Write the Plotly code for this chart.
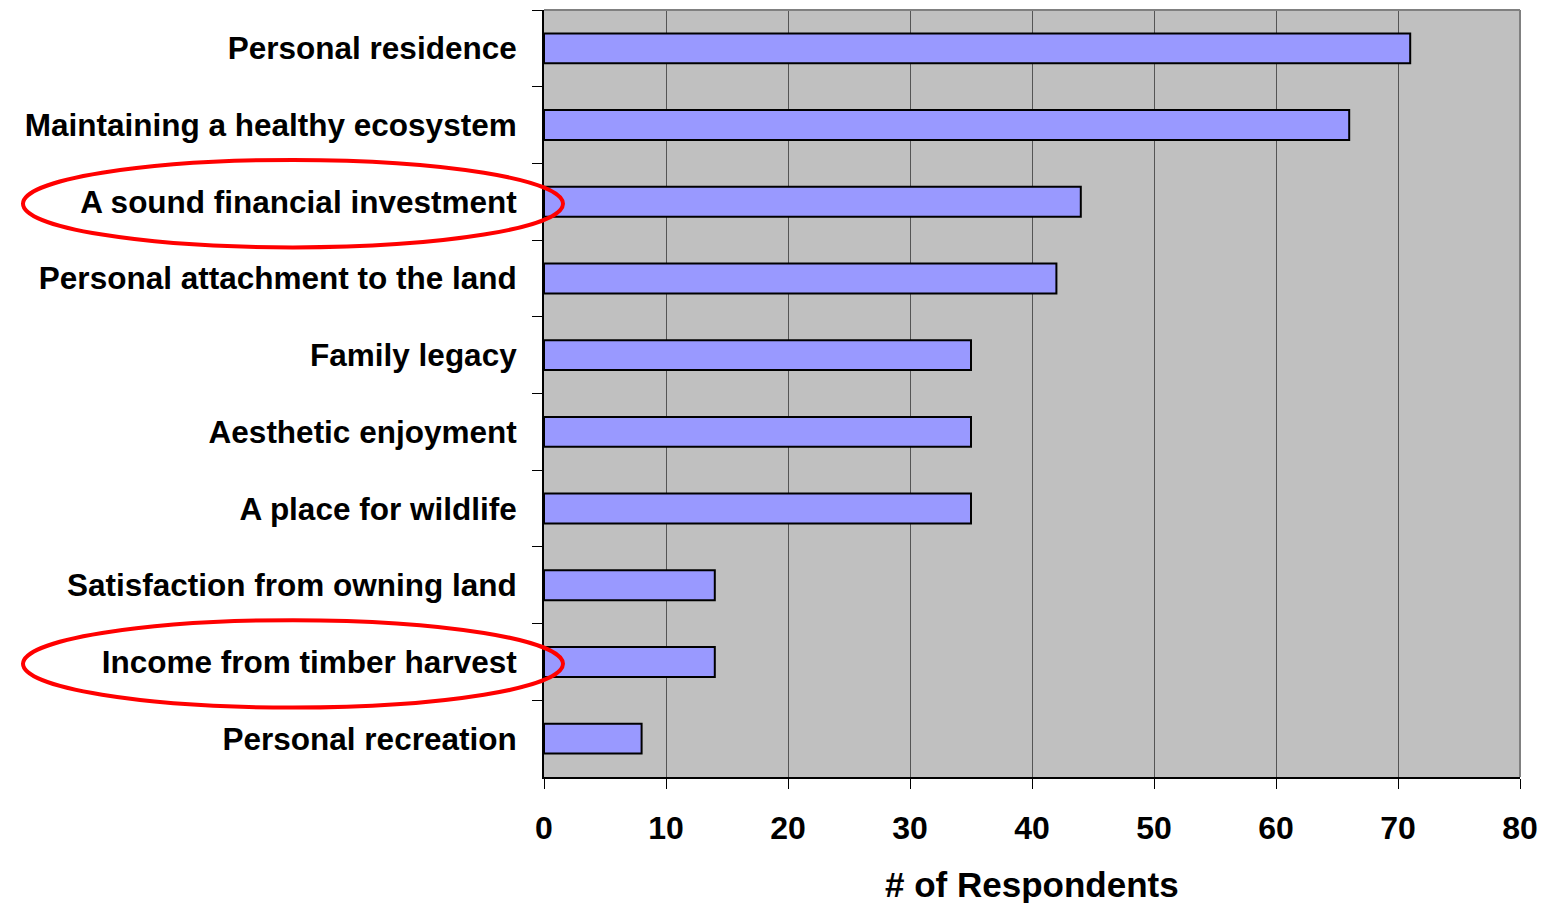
import plotly.graph_objects as go

categories = [
    "Personal residence",
    "Maintaining a healthy ecosystem",
    "A sound financial investment",
    "Personal attachment to the land",
    "Family legacy",
    "Aesthetic enjoyment",
    "A place for wildlife",
    "Satisfaction from owning land",
    "Income from timber harvest",
    "Personal recreation",
]
respondents = [71, 66, 44, 42, 35, 35, 35, 14, 14, 8]
x_ticks = [0, 10, 20, 30, 40, 50, 60, 70, 80]
highlighted = ["A sound financial investment", "Income from timber harvest"]
x_title = "# of Respondents"

# page has an 8px body margin
W, H = 1542, 895
L, T = 536, 2
R = W - 1512
B = H - 769

fig = go.Figure()
fig.add_trace(go.Bar(
    x=respondents, y=categories, orientation="h",
    marker=dict(color="#9999FF", line=dict(color="black", width=2)),
    showlegend=False,
))

pw = W - L - R
ph = H - T - B
shapes = []
for cat in highlighted:
    i = categories.index(cat)
    shapes.append(dict(
        type="circle", xref="paper", yref="y",
        x0=(15 - L) / pw, x1=(555 - L) / pw,
        y0=i - 0.545, y1=i + 0.595,
        line=dict(color="#FF0000", width=4), layer="above",
    ))

font = "Liberation Sans, Arial, sans-serif"
fig.update_layout(
    width=W, height=H,
    margin=dict(l=L, r=R, t=T, b=B, autoexpand=False),
    paper_bgcolor="white", plot_bgcolor="#C0C0C0",
    bargap=0.61,
    shapes=shapes,
    font=dict(family=font, color="black"),
    xaxis=dict(
        range=[0, 80], tickvals=x_ticks, ticks="outside", ticklen=10,
        tickcolor="black", showline=True, linecolor="black", linewidth=2,
        showgrid=True, gridcolor="#555555", gridwidth=1, zeroline=False,
        tickfont=dict(size=32, family=font, weight="bold"),
        ticklabelstandoff=12,
    ),
    yaxis=dict(
        categoryorder="array", categoryarray=categories, autorange="reversed",
        ticks="outside", ticklen=10, tickcolor="black", tickson="boundaries",
        showline=True, linecolor="black", linewidth=2, showgrid=False,
        tickfont=dict(size=31.5, family=font, weight="bold"),
        ticklabelstandoff=19,
    ),
)
fig.add_annotation(
    text=x_title, xref="paper", yref="paper", x=0.5, y=(769 - 876) / ph,
    xanchor="center", yanchor="middle", showarrow=False,
    font=dict(size=35, family=font, weight="bold", color="black"),
)
# gray border on top and right
fig.add_shape(type="line", xref="paper", yref="paper", x0=0, x1=1, y0=1, y1=1,
              line=dict(color="#808080", width=2))
fig.add_shape(type="line", xref="paper", yref="paper", x0=1, x1=1, y0=0, y1=1,
              line=dict(color="#808080", width=2))

fig.write_html("out.html")
